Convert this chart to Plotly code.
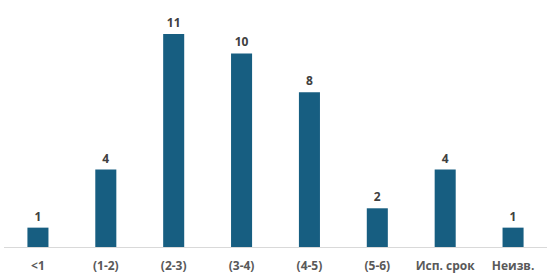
import plotly.graph_objects as go

categories = ["<1", "(1-2)", "(2-3)", "(3-4)", "(4-5)", "(5-6)", "Исп. срок", "Неизв."]
values = [1, 4, 11, 10, 8, 2, 4, 1]

fig = go.Figure(go.Bar(
    x=categories, y=values,
    marker=dict(color="#175E81", line=dict(width=0)),
    text=[str(v) for v in values],
    textposition="outside",
    textfont=dict(family="Open Sans", size=12, color="#404040", weight="bold"),
    cliponaxis=False,
))

fig.update_layout(
    width=547, height=278,
    margin=dict(l=4, r=0, t=0, b=31),
    paper_bgcolor="white", plot_bgcolor="white",
    bargap=0.69,
    showlegend=False,
    xaxis=dict(
        showline=True, linecolor="#D9D9D9", linewidth=1,
        ticks="", showgrid=False, ticklabelstandoff=8,
        tickfont=dict(family="Open Sans", size=12, color="#595959", weight="bold"),
    ),
    yaxis=dict(range=[0, 12.76], visible=False, showgrid=False),
)

fig.write_html("out.html")
